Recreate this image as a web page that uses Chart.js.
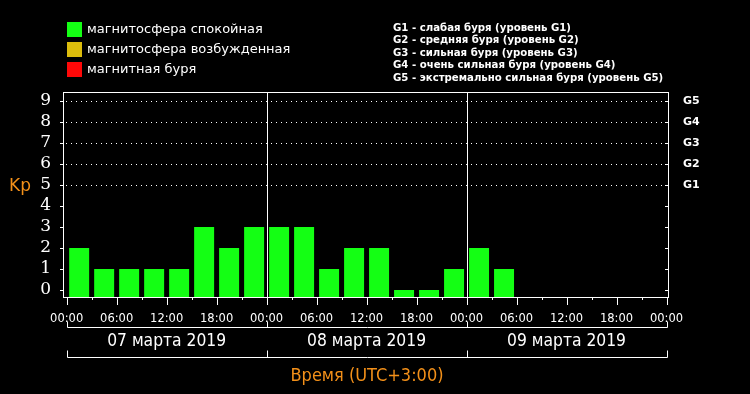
<!DOCTYPE html>
<html>
<head>
<meta charset="utf-8">
<script src="https://cdn.jsdelivr.net/npm/chart.js@4.4.1/dist/chart.umd.min.js"></script>
<style>
  html, body { margin: 0; padding: 0; background: #000; }
  #wrap { width: 750px; height: 394px; }
</style>
</head>
<body>
<div id="wrap"><canvas id="kpChart" width="750" height="394"></canvas></div>
<script>
// Kp по 3-часовым интервалам, 07.03.2019 00:00 – 09.03.2019 06:00
var kpValues = [2, 1, 1, 1, 1, 3, 2, 3,
                3, 3, 1, 2, 2, 0, 0, 1,
                2, 1];
var hourLabels = ['00:00', '06:00', '12:00', '18:00'];
var dayLabels = ['07 марта 2019', '08 марта 2019', '09 марта 2019'];
var kpTicks = [0, 1, 2, 3, 4, 5, 6, 7, 8, 9];
var stormLevels = [5, 6, 7, 8, 9];
var stormLabels = ['G1', 'G2', 'G3', 'G4', 'G5'];
var legendLeft = ['магнитосфера спокойная', 'магнитосфера возбужденная', 'магнитная буря'];
var legendRight = [
    'G1 - слабая буря (уровень G1)',
    'G2 - средняя буря (уровень G2)',
    'G3 - сильная буря (уровень G3)',
    'G4 - очень сильная буря (уровень G4)',
    'G5 - экстремально сильная буря (уровень G5)'
];

var GREEN = '#14ff14';
var YELLOW = '#dcbc0c';
var RED = '#ff0808';
var ORANGE = '#f39019';

var yMin = -0.333;
var yMax = 9.43;
var xMin = -0.44;
var xMax = 72.3;

function kpColor(v) {
    if (v >= 5) return RED;
    if (v >= 4) return YELLOW;
    return GREEN;
}

// рамка, сетка, подписи — поверх штатных осей
var decorPlugin = {
    id: 'decor',
    beforeDatasetsDraw: function (chart) {
        var c = chart.ctx, a = chart.chartArea;
        var xs = chart.scales.x, ys = chart.scales.y;
        c.save();
        c.strokeStyle = '#fff';
        c.lineWidth = 1;
        // пунктир на уровнях бурь
        c.setLineDash([1, 4]);
        stormLevels.forEach(function (lv) {
            var y = Math.round(ys.getPixelForValue(lv)) + 0.5;
            c.beginPath();
            c.moveTo(a.left + 3, y);
            c.lineTo(a.right, y);
            c.stroke();
        });
        c.setLineDash([]);
        // разделители суток
        [24, 48].forEach(function (h) {
            var x = Math.round(xs.getPixelForValue(h)) + 0.5;
            c.beginPath();
            c.moveTo(x, a.top);
            c.lineTo(x, a.bottom);
            c.stroke();
        });
        c.restore();
    },
    afterDraw: function (chart) {
        var c = chart.ctx, a = chart.chartArea;
        var xs = chart.scales.x, ys = chart.scales.y;
        c.save();
        c.strokeStyle = '#fff';
        c.lineWidth = 1;
        c.strokeRect(Math.round(a.left) + 0.5, Math.round(a.top) + 0.5,
            Math.round(a.right - a.left) - 1, Math.round(a.bottom - a.top));

        // засечки по Y
        c.beginPath();
        kpTicks.forEach(function (v) {
            var y = Math.round(ys.getPixelForValue(v)) + 0.5;
            c.moveTo(a.left - 3, y); c.lineTo(a.left, y);
            c.moveTo(a.right - 4, y); c.lineTo(a.right, y);
        });
        // засечки по X
        for (var h = 0; h <= 72; h += 3) {
            var x = Math.round(xs.getPixelForValue(h)) + 0.5;
            var len = (h % 6 === 0) ? 8 : 3;
            c.moveTo(x, a.bottom); c.lineTo(x, a.bottom + len);
        }
        c.stroke();

        // скобки с датами
        var yb1 = 327.5, yb2 = 357.5;
        c.beginPath();
        var x0 = Math.round(xs.getPixelForValue(0)) + 0.5;
        var x3 = Math.round(xs.getPixelForValue(72)) + 0.5;
        c.moveTo(x0, yb1); c.lineTo(x3, yb1);
        c.moveTo(x0, yb2); c.lineTo(x3, yb2);
        for (var d = 0; d <= 3; d++) {
            var xd = Math.round(xs.getPixelForValue(d * 24)) + 0.5;
            c.moveTo(xd, yb1 - 6); c.lineTo(xd, yb1);
            c.moveTo(xd, yb2 - 7); c.lineTo(xd, yb2);
        }
        c.stroke();

        c.fillStyle = '#fff';
        c.textAlign = 'center';
        c.textBaseline = 'middle';
        c.font = '17.3px "DejaVu Sans Condensed", "DejaVu Sans", sans-serif';
        dayLabels.forEach(function (t, i) {
            c.fillText(t, xs.getPixelForValue(i * 24 + 12), 342);
        });

        c.fillStyle = ORANGE;
        c.font = '18px "DejaVu Sans Condensed", "DejaVu Sans", sans-serif';
        c.fillText('Время (UTC+3:00)', 367, 376);
        c.font = '17px "DejaVu Sans", sans-serif';
        c.fillText('Kp', 20, 187);

        // легенда слева
        var legColors = [GREEN, YELLOW, RED];
        c.textAlign = 'left';
        c.font = '13px "DejaVu Sans", sans-serif';
        legendLeft.forEach(function (t, i) {
            var cy = 29 + i * 20;
            c.fillStyle = legColors[i];
            c.fillRect(67, cy - 7, 15, 15);
            c.fillStyle = '#fff';
            c.fillText(t, 87, cy + 1);
        });

        // легенда справа
        c.font = 'bold 11.3px "DejaVu Sans Condensed", "DejaVu Sans", sans-serif';
        legendRight.forEach(function (t, i) {
            c.fillText(t, 393, 28 + i * 12.4);
        });
        c.restore();
    }
};

var ctx = document.getElementById('kpChart').getContext('2d');
var kpChart = new Chart(ctx, {
    type: 'bar',
    data: {
        datasets: [{
            data: kpValues.map(function (v, i) { return { x: i * 3 + 1.5, y: [yMin, v] }; }),
            backgroundColor: function (ctx) { return kpColor(kpValues[ctx.dataIndex]); },
            borderWidth: 0,
            borderSkipped: false,
            barPercentage: 0.8,
            categoryPercentage: 1,
            yAxisID: 'y'
        }]
    },
    options: {
        responsive: false,
        animation: false,
        devicePixelRatio: 1,
        layout: { padding: { top: 92, left: 0, right: 0, bottom: 0 } },
        plugins: { legend: { display: false }, tooltip: { enabled: false } },
        scales: {
            x: {
                type: 'linear',
                min: xMin,
                max: xMax,
                offset: false,
                grid: { display: false },
                border: { display: false },
                afterBuildTicks: function (s) {
                    var t = [];
                    for (var h = 0; h <= 72; h += 6) t.push({ value: h });
                    s.ticks = t;
                },
                afterFit: function (s) { s.height = 97; },
                ticks: {
                    autoSkip: false,
                    maxRotation: 0,
                    padding: 7,
                    color: '#fff',
                    font: { family: '"DejaVu Sans", sans-serif', size: 11.5 },
                    callback: function (v) { return hourLabels[(v / 6) % 4]; }
                }
            },
            y: {
                position: 'left',
                min: yMin,
                max: yMax,
                grid: { display: false, drawTicks: false },
                border: { display: false },
                afterBuildTicks: function (s) {
                    s.ticks = kpTicks.map(function (v) { return { value: v }; });
                },
                afterFit: function (s) { s.width = 63; },
                ticks: {
                    autoSkip: false,
                    padding: 12,
                    color: '#fff',
                    font: { family: '"DejaVu Serif", serif', size: 17 }
                }
            },
            y2: {
                position: 'right',
                min: yMin,
                max: yMax,
                grid: { display: false, drawTicks: false },
                border: { display: false },
                afterBuildTicks: function (s) {
                    s.ticks = stormLevels.map(function (v) { return { value: v }; });
                },
                afterFit: function (s) { s.width = 81; },
                ticks: {
                    autoSkip: false,
                    padding: 14,
                    color: '#fff',
                    font: { family: '"DejaVu Sans", sans-serif', size: 11, weight: 'bold' },
                    callback: function (v) { return stormLabels[stormLevels.indexOf(v)]; }
                }
            }
        }
    },
    plugins: [decorPlugin]
});
</script>
</body>
</html>
